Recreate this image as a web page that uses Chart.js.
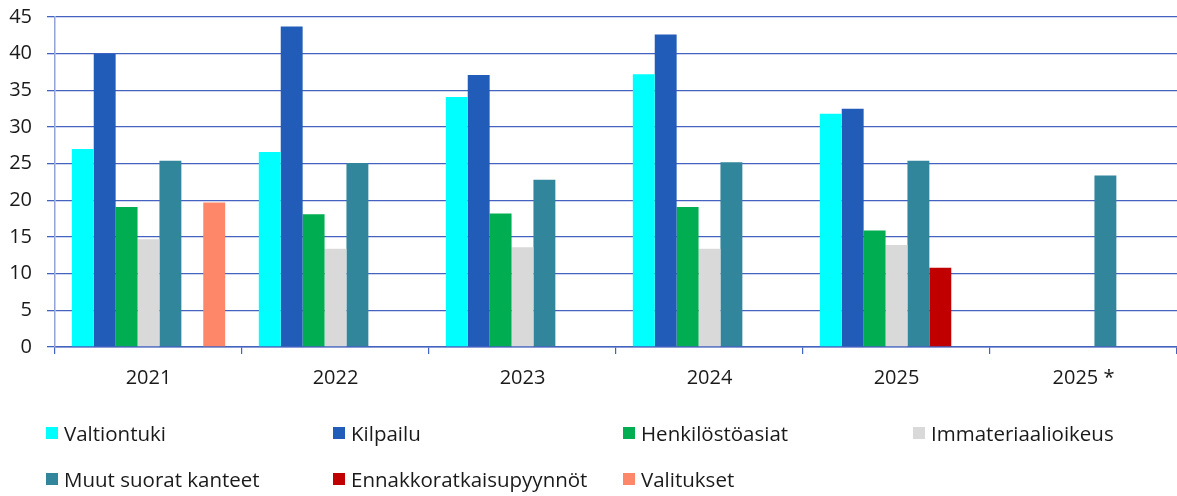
<!DOCTYPE html>
<html>
<head>
<meta charset="utf-8">
<script src="https://cdn.jsdelivr.net/npm/chart.js@4"></script>
<style>
  html, body { margin: 0; padding: 0; background: #fff; overflow: hidden; }
  #wrap { position: relative; width: 1177px; height: 496px; overflow: hidden; font-family: "Open Sans", sans-serif; }
  #chart { position: absolute; left: 0; top: -10px; }
  #legend { position: absolute; left: 0; top: 0; width: 1177px; height: 496px; pointer-events: none; }
  .item { position: absolute; display: flex; align-items: center; font-size: 20.5px; line-height: 24px; color: #1a1a1a; white-space: nowrap; }
  .box { width: 12px; height: 12px; margin-right: 6px; }
</style>
</head>
<body>
<div id="wrap">
  <canvas id="chart" width="1177" height="412"></canvas>
  <div id="legend"></div>
</div>
<script>
const categories = ['2021', '2022', '2023', '2024', '2025', '2025 *'];

// series values
const valtiontuki         = [27.0, 26.6, 34.1, 37.2, 31.8, null];
const kilpailu            = [40.0, 43.7, 37.1, 42.6, 32.5, null];
const henkilostoasiat     = [19.1, 18.1, 18.2, 19.1, 15.9, null];
const immateriaalioikeus  = [14.7, 13.4, 13.6, 13.4, 13.9, null];
const muutSuoratKanteet   = [25.4, 25.1, 22.8, 25.2, 25.4, 23.4];
const ennakkoratkaisu     = [null, null, null, null, 10.8, null];
const valitukset          = [19.7, null, null, null, null, null];

const yTicks = [0, 5, 10, 15, 20, 25, 30, 35, 40, 45];

const series = [
  { label: 'Valtiontuki', data: valtiontuki, color: '#00FFFF' },
  { label: 'Kilpailu', data: kilpailu, color: '#215DB8' },
  { label: 'Henkilöstöasiat', data: henkilostoasiat, color: '#00AD50' },
  { label: 'Immateriaalioikeus', data: immateriaalioikeus, color: '#D9D9D9' },
  { label: 'Muut suorat kanteet', data: muutSuoratKanteet, color: '#31869C' },
  { label: 'Ennakkoratkaisupyynnöt', data: ennakkoratkaisu, color: '#C00000' },
  { label: 'Valitukset', data: valitukset, color: '#FF8769' }
];

const gridBlue = '#4462bf';

const ctx = document.getElementById('chart').getContext('2d');
const chart = new Chart(ctx, {
  type: 'bar',
  data: {
    labels: categories,
    datasets: series.map(s => ({
      label: s.label,
      data: s.data,
      backgroundColor: s.color,
      borderWidth: 0,
      barPercentage: 1.0,
      categoryPercentage: 0.82
    }))
  },
  options: {
    responsive: false,
    animation: false,
    layout: { padding: { top: 5, right: 0, bottom: 0, left: 0 } },
    plugins: {
      legend: { display: false },
      tooltip: { enabled: false }
    },
    scales: {
      x: {
        grid: {
          offset: true,
          drawOnChartArea: false,
          drawTicks: true,
          tickLength: 7,
          color: gridBlue,
          lineWidth: 1.2
        },
        border: { display: true, color: gridBlue, width: 1.5 },
        ticks: {
          color: '#1a1a1a',
          font: { family: 'Open Sans', size: 20 },
          padding: 12
        }
      },
      y: {
        min: 0,
        max: 45,
        afterBuildTicks: axis => { axis.ticks = yTicks.map(v => ({ value: v })); },
        afterFit: axis => { axis.width = 55; },
        grid: {
          color: gridBlue,
          lineWidth: 1.3,
          drawTicks: true,
          tickLength: 8
        },
        border: { display: true, color: '#93a3d6', width: 1.5 },
        ticks: {
          color: '#1a1a1a',
          font: { family: 'Open Sans', size: 20 },
          padding: 15
        }
      }
    }
  }
});

// HTML legend built from the series list
const legendPos = [
  [46, 433], [333, 433], [623, 433], [913, 433],
  [46, 479], [333, 479], [623, 479]
];
const legend = document.getElementById('legend');
series.forEach((s, i) => {
  const el = document.createElement('div');
  el.className = 'item';
  el.style.left = legendPos[i][0] + 'px';
  el.style.top = (legendPos[i][1] - 12) + 'px';
  el.innerHTML = '<span class="box" style="background:' + s.color + '"></span>' + s.label;
  legend.appendChild(el);
});
</script>
</body>
</html>
